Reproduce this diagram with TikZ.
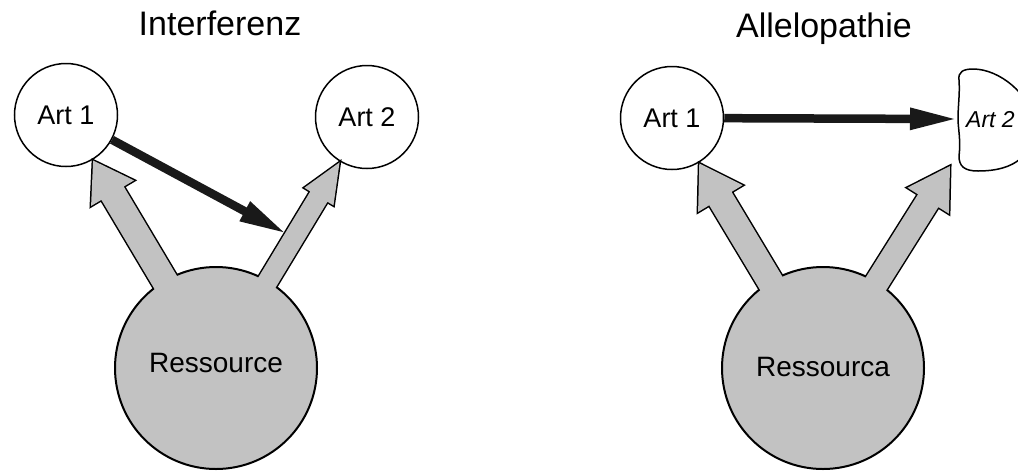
\documentclass[tikz,border=0pt]{standalone}
\usepackage{fontspec}
\setmainfont{Liberation Sans}
\usetikzlibrary{calc,arrows.meta,backgrounds}
\definecolor{resgray}{gray}{0.76}
\newcommand\fatarrow[3]{($(#1base)!#2!-90:(#1tip)$) -- ($(#1hb)!#2!90:(#1base)$) -- ($(#1hb)!#3!90:(#1base)$) -- (#1tip) -- ($(#1hb)!#3!-90:(#1base)$) -- ($(#1hb)!#2!-90:(#1base)$) -- ($(#1base)!#2!90:(#1tip)$) -- cycle}
\tikzset{
  art/.style={circle,draw=black,line width=1.5pt,minimum size=103pt,inner sep=0pt,font=\fontsize{27}{27}\selectfont},
  ressource/.style={circle,draw=black,line width=2pt,fill=resgray,minimum size=202pt,inner sep=0pt},
  title/.style={font=\fontsize{34}{34}\selectfont,anchor=base,inner sep=0pt},
  reslabel/.style={font=\fontsize{28}{28}\selectfont,inner sep=0pt},
  fatoutline/.style={draw=black,line width=3pt,line join=miter},
  fatfill/.style={fill=resgray},
  blackarrow/.style={draw=black!90,line width=8.5pt,-{Triangle[length=48pt,width=20pt]}},
  blob/.style={draw=black,line width=1.5pt},
}
\begin{document}
\begin{tikzpicture}[x=1pt,y=-1pt]
\useasboundingbox (0,0) rectangle (1018,472);

% ---------- titles ----------
\node[title] (t1) at (220,35) {Interferenz};
\node[title] (t2) at (824,37) {Allelopathie};

% ---------- left panel ----------
\node[art] (a1) at (66,115) {Art 1};
\node[art] (a2) at (367,117) {Art 2};
\node[ressource] (res) at (216,368) {};

\coordinate (LLbase) at ($(res.center)+(-16,-28)$);
\coordinate (LLtip) at ($(a1.center)!53pt!(LLbase)$);
\coordinate (LLhb) at ($(LLtip)!38pt!(LLbase)$);
\coordinate (LRbase) at ($(res.center)+(13.5,-23.5)$);
\coordinate (LRtip) at ($(a2.center)!53pt!(LRbase)$);
\coordinate (LRhb) at ($(LRtip)!40pt!(LRbase)$);

% ---------- right panel ----------
\node[art] (ra1) at (672,118) {Art 1};
\node[ressource] (res2) at (823,368) {};
\draw[blob] (959,80) .. controls (958,72) and (963,69) .. (973,69)
  .. controls (1000,69) and (1030,95) .. (1033,120)
  .. controls (1036,155) and (1015,171) .. (978,171)
  .. controls (964,171) and (959,166) .. (959,156)
  .. controls (961,140) and (958,128) .. (958,119)
  .. controls (958,105) and (960,95) .. (959,80) -- cycle;
\coordinate (blobW) at (958,119);
\node[anchor=base west,inner sep=0pt,font=\fontsize{23}{23}\selectfont\itshape] (ra2) at (966,127) {Art 2};

\coordinate (RLbase) at ($(res2.center)+(-15,-23.5)$);
\coordinate (RLtip) at ($(ra1.center)!53pt!(RLbase)$);
\coordinate (RLhb) at ($(RLtip)!41pt!(RLbase)$);
\coordinate (RRbase) at ($(res2.center)+(14.5,-23)$);
\coordinate (RRtip) at ($(blobW)+(-8,47)$);
\coordinate (RRhb) at ($(RRtip)!41pt!(RRbase)$);

% outlines of the fat arrows behind the resource circles
\begin{scope}[on background layer]
  \draw[fatoutline] \fatarrow{LL}{13pt}{25pt};
  \draw[fatoutline] \fatarrow{LR}{10pt}{17pt};
  \draw[fatoutline] \fatarrow{RL}{13pt}{26pt};
  \draw[fatoutline] \fatarrow{RR}{12pt}{24.5pt};
\end{scope}
% fills merge arrows and circles
\fill[fatfill] \fatarrow{LL}{13pt}{25pt};
\fill[fatfill] \fatarrow{LR}{10pt}{17pt};
\fill[fatfill] \fatarrow{RL}{13pt}{26pt};
\fill[fatfill] \fatarrow{RR}{12pt}{24.5pt};

\node[reslabel] (rl1) at (216,363) {Ressource};
\node[reslabel] (rl2) at (823,367) {Ressourca};

% black arrows
\coordinate (hit) at (287,234);
\draw[blackarrow] (a1) -- (hit);
\draw[blackarrow] (ra1) -- (blobW);
\end{tikzpicture}
\end{document}
